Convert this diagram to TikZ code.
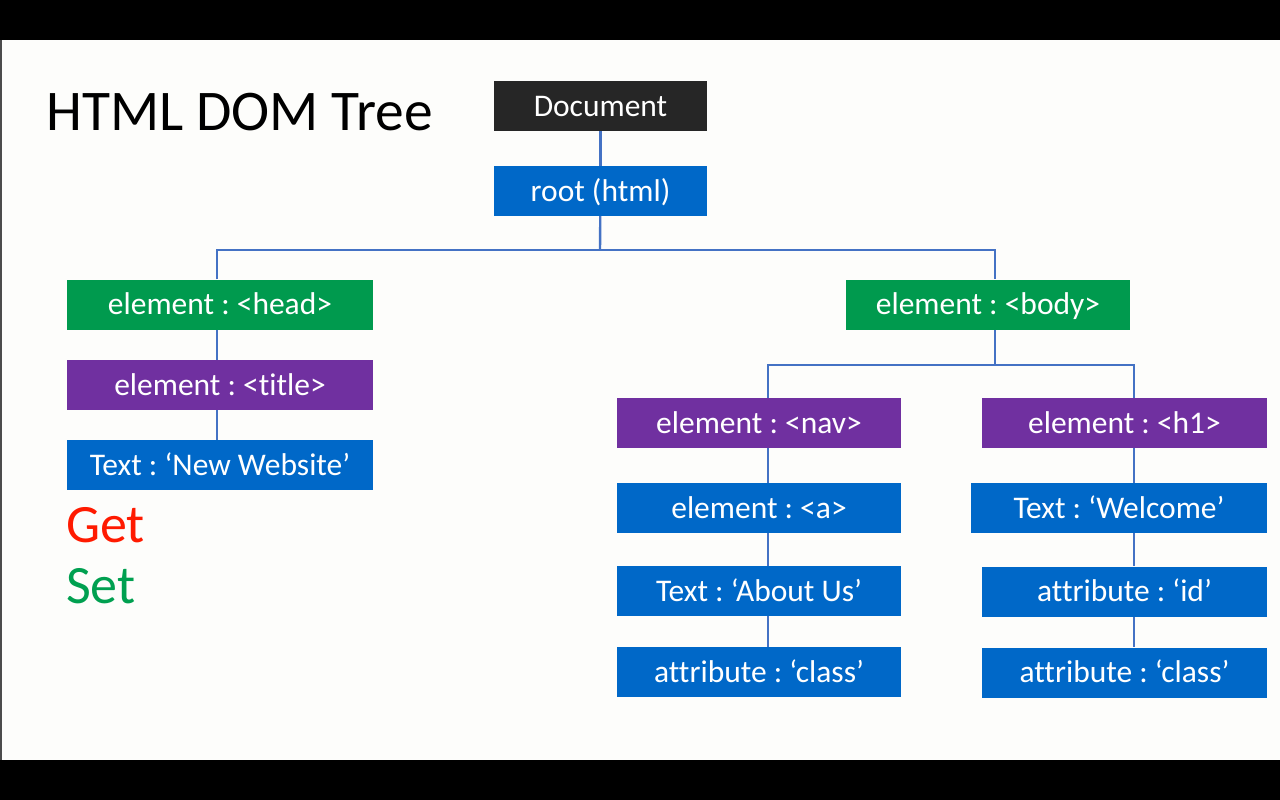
\documentclass[tikz,border=0pt]{standalone}
\usepackage{fontspec}
\setmainfont{Carlito}[Ligatures=NoCommon]
\usepackage{xcolor}
\usepackage{tikz}
\frenchspacing

\definecolor{pagebg}{HTML}{FDFDFB}
\definecolor{docgray}{HTML}{262626}
\definecolor{boxblue}{HTML}{0068C8}
\definecolor{boxgreen}{HTML}{009A4E}
\definecolor{boxpurple}{HTML}{7030A0}
\definecolor{lineblue}{HTML}{4472C4}
\definecolor{getred}{HTML}{FF1A00}
\definecolor{setgreen}{HTML}{00A050}

\tikzset{
  box/.style={rectangle, text=white, inner sep=0pt, minimum height=50pt,
              font=\fontsize{31.5}{31.5}\selectfont, text height=20pt, text depth=0pt},
  link/.style={draw=lineblue, line width=2.4pt},
}

\begin{document}
\begin{tikzpicture}[x=1pt, y=-1pt]
          \fill[pagebg] (0,0) rectangle (1280,800);
          \fill[black] (0,0) rectangle (1280,40);
          \fill[black] (0,760) rectangle (1280,800);
          \fill[black!70] (0,40) rectangle (2,760);
          \useasboundingbox (0,0) rectangle (1280,800);

          \node[anchor=base west, inner sep=0pt, font=\fontsize{57.5}{57.5}\selectfont](heading) at (46,130) {HTML DOM Tree};

          \node[box, fill=docgray,   minimum width=213pt](doc)     at ( 600.5,106  ) {Document};
          \node[box, fill=boxblue,   minimum width=213pt](root)    at ( 600.5,191  ) {root (html)};

          \node[box, fill=boxgreen,  minimum width=306pt](head)    at ( 220  ,304.5) {element : <head>};
          \node[box, fill=boxpurple, minimum width=306pt](title)   at ( 220  ,385  ) {element : <title>};
          \node[box, fill=boxblue,   minimum width=306pt](newweb)  at ( 220  ,465  ) {Text : ‘New Website’};

          \node[box, fill=boxgreen,  minimum width=284pt](body)    at ( 988  ,304.5) {element : <body>};
          \node[box, fill=boxpurple, minimum width=284pt](nav)     at ( 759  ,423  ) {element : <nav>};
          \node[box, fill=boxblue,   minimum width=284pt](elema)   at ( 759  ,508  ) {element : <a>};
          \node[box, fill=boxblue,   minimum width=284pt](aboutus) at ( 759  ,591  ) {Text : ‘About Us’};
          \node[box, fill=boxblue,   minimum width=284pt](class1)  at ( 759  ,672  ) {attribute : ‘class’};

          \node[box, fill=boxpurple, minimum width=285pt](h1)      at (1124.5,423  ) {element : <h1>};
          \node[box, fill=boxblue,   minimum width=296pt](welcome) at (1119  ,508  ) {Text : ‘Welcome’};
          \node[box, fill=boxblue,   minimum width=285pt](idattr)  at (1124.5,591.5) {attribute : ‘id’};
          \node[box, fill=boxblue,   minimum width=285pt](class2)  at (1124.5,672.5) {attribute : ‘class’};

          \node[anchor=base west, inner sep=0pt, text=getred,   font=\fontsize{54}{54}\selectfont](get) at (66,542) {Get};
          \node[anchor=base west, inner sep=0pt, text=setgreen, font=\fontsize{54}{54}\selectfont](set) at (66,603) {Set};

          \coordinate (J1)   at ( 600,250);
          \coordinate (J2)   at ( 995,365);
          \coordinate (colL) at ( 217,  0);
          \coordinate (colB) at ( 995,  0);
          \coordinate (colM) at ( 768,  0);
          \coordinate (colR) at (1134,  0);

          \draw[link] (doc) -- (root);
          \draw[link] (root) -- (J1);
          \draw[link] (head.north -| colL) |- (J1) -| (body.north -| colB);
          \draw[link] (body.south -| colB) -- (J2);
          \draw[link] (nav.north -| colM) |- (J2) -| (h1.north -| colR);

          \draw[link] (head.south -| colL) -- (title.north -| colL) (title.south -| colL) -- (newweb.north -| colL);
          \draw[link] (nav.south -| colM) -- (elema.north -| colM) (elema.south -| colM) -- (aboutus.north -| colM)
                      (aboutus.south -| colM) -- (class1.north -| colM);
          \draw[link] (h1.south -| colR) -- (welcome.north -| colR) (welcome.south -| colR) -- (idattr.north -| colR)
                      (idattr.south -| colR) -- (class2.north -| colR);
        \end{tikzpicture}
\end{document}
